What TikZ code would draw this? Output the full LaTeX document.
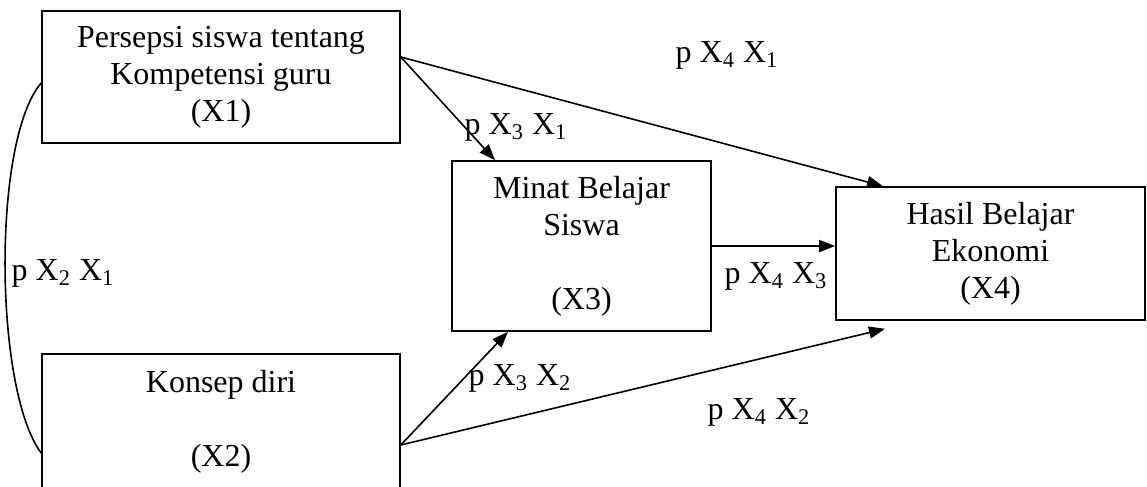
\documentclass[tikz,border=0pt]{standalone}
\usepackage{fontspec}
\setmainfont{Liberation Serif}
\usetikzlibrary{arrows.meta}
\begin{document}
\begin{tikzpicture}[x=0.5pt,y=-0.5pt,line width=0.8pt,
    every node/.style={font=\fontsize{16}{18.5}\selectfont,align=center},
    var/.style={draw,rectangle,inner sep=0pt},
    path/.style={-{Triangle[length=8pt,width=6pt]}}]
            \useasboundingbox (0,0) rectangle (1147,487);

            \node[var,minimum width=179pt,minimum height=66pt] (x1) at (221,77) {Persepsi siswa tentang\\Kompetensi guru\\(X1)};
            \node[var,minimum width=179pt,minimum height=67.5pt] (x2) at (221,421.5) {Konsep diri\\[18.5pt](X2)};
            \node[var,minimum width=129.5pt,minimum height=85pt] (x3) at (581.5,246) {Minat Belajar\\Siswa\\[18.5pt](X3)};
            \node[var,minimum width=154.5pt,minimum height=66.5pt] (x4) at (990.5,253.5) {Hasil Belajar\\Ekonomi\\(X4)};

            \node (p41) at (727,55) {p X\textsubscript{4} X\textsubscript{1}};
            \node (p31) at (516,127) {p X\textsubscript{3} X\textsubscript{1}};
            \node (p43) at (776,276) {p X\textsubscript{4} X\textsubscript{3}};
            \node (p21) at (63,273) {p X\textsubscript{2} X\textsubscript{1}};
            \node (p32) at (520,378) {p X\textsubscript{3} X\textsubscript{2}};
            \node (p42) at (759,412) {p X\textsubscript{4} X\textsubscript{2}};

            \draw ([yshift=-3pt]x1.west) .. controls (-8,140) and (-6,390) .. ([yshift=-15.75pt]x2.west);
            \draw[path] ([yshift=10pt]x1.east) -- ([xshift=-43.25pt]x3.north);
            \draw[path] ([yshift=10pt]x1.east) -- ([xshift=-53.75pt]x4.north);
            \draw[path] (x3.east) -- (x3.east -| x4.west);
            \draw[path] ([yshift=-11.75pt]x2.east) -- ([xshift=-36.75pt]x3.south);
            \draw[path] ([yshift=-11.75pt]x2.east) -- ([xshift=-52.75pt,yshift=-4pt]x4.south);
        \end{tikzpicture}
\end{document}
